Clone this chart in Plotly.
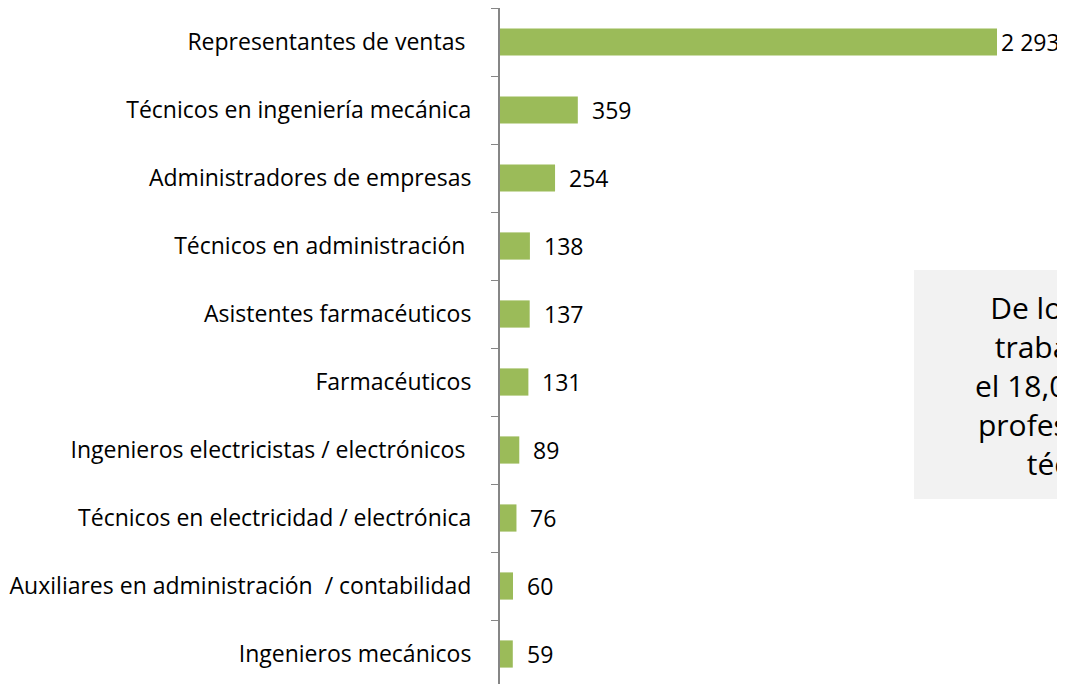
import plotly.graph_objects as go

categories = [
    "Representantes de ventas ",
    "Técnicos en ingeniería mecánica",
    "Administradores de empresas",
    "Técnicos en administración ",
    "Asistentes farmacéuticos",
    "Farmacéuticos",
    "Ingenieros electricistas / electrónicos ",
    "Técnicos en electricidad / electrónica",
    "Auxiliares en administración  / contabilidad",
    "Ingenieros mecánicos",
]
values = [2293, 359, 254, 138, 137, 131, 89, 76, 60, 59]
value_labels = ["2 293", "359", "254", "138", "137", "131", "89", "76", "60", "59"]
box_text = "De los 12 736<br>trabajadores<br>el 18,0% fueron<br>profesionales y<br>técnicos"

FONT = "'Open Sans', sans-serif"
# the page adds an 8px body margin, so the figure is 8px smaller than the window
W, H = 1057, 676
ML, MR, MT, MB = 492, 0, 0, 0
px_per_unit = 497 / 2293
xmax = (W - ML - MR) / px_per_unit

# bottom-to-top order so the first category is at the top
cats_bt = categories[::-1]
vals_bt = values[::-1]
labs_bt = value_labels[::-1]

fig = go.Figure(go.Bar(
    x=vals_bt, y=cats_bt, orientation="h",
    marker=dict(color="#9BBB59", line=dict(width=0)),
    hoverinfo="x+y",
))

vmax = max(values)
for v, c, t in zip(vals_bt, cats_bt, labs_bt):
    fig.add_annotation(
        x=v, y=c, xref="x", yref="y", text=t, showarrow=False,
        xanchor="left", yanchor="middle", xshift=2 if v == vmax else 12,
        font=dict(family=FONT, size=23, color="#000000"),
    )

band = 68.0
ylow = -0.5 + (band * len(categories) - (H - MT - MB)) / band

def px_to_paper_x(px):
    return (px - ML) / (W - ML - MR)

def py_to_paper_y(py):
    return (H - MB - py) / (H - MT - MB)

# grey text box (continues past the right edge, as in the reference)
fig.add_shape(
    type="rect", xref="paper", yref="paper",
    x0=px_to_paper_x(906), x1=px_to_paper_x(1250),
    y0=py_to_paper_y(491), y1=py_to_paper_y(262),
    fillcolor="#F2F2F2", line=dict(width=0), layer="below",
)
fig.add_annotation(
    x=px_to_paper_x(1076), y=py_to_paper_y(377), xref="paper", yref="paper",
    text=box_text, showarrow=False, align="center",
    xanchor="center", yanchor="middle",
    font=dict(family=FONT, size=30, color="#000000"),
)

fig.update_layout(
    width=W, height=H,
    margin=dict(l=ML, r=MR, t=MT, b=MB, pad=0, autoexpand=False),
    paper_bgcolor="white", plot_bgcolor="white",
    bargap=0.6, showlegend=False,
    xaxis=dict(range=[0, xmax], visible=False, fixedrange=True, automargin=False),
    yaxis=dict(
        type="category", range=[ylow, len(categories) - 0.5],
        automargin=False,
        showline=True, linecolor="#868686", linewidth=2,
        ticks="outside", ticklen=7, tickcolor="#868686", tickwidth=1,
        tickson="boundaries", showgrid=False, zeroline=False,
        tickfont=dict(family=FONT, size=23, color="#000000"),
        ticklabelstandoff=22,
    ),
)

fig.write_html("out.html")
